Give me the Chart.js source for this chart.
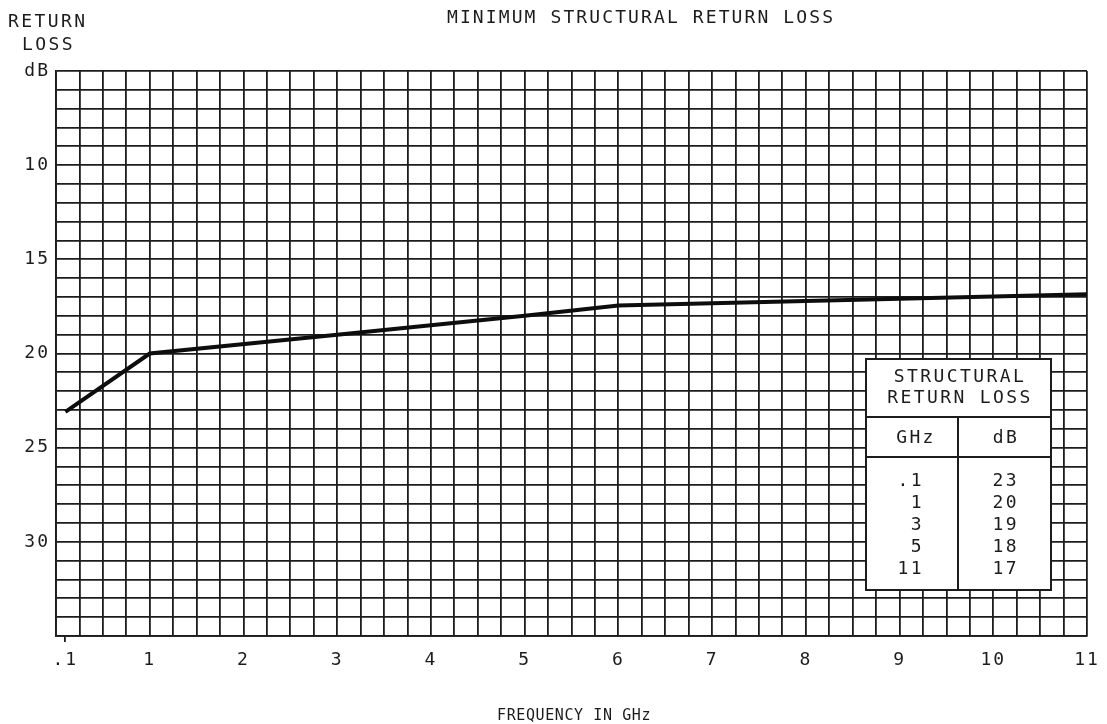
<!DOCTYPE html>
<html>
<head>
<meta charset="utf-8">
<script src="https://cdn.jsdelivr.net/npm/chart.js@4/dist/chart.umd.min.js"></script>
<style>
  html, body { margin: 0; padding: 0; background: #fff; }
  #wrap { width: 1107px; height: 724px; }
</style>
</head>
<body>
<div id="wrap"><canvas id="chart"></canvas></div>
<script>
// --- data ---
const freqGHz = [0.1, 1, 3, 5, 6, 11];
const lossDb = [23.1, 20, 19, 18, 17.45, 16.85];

const xTickValues = [0.1, 1, 2, 3, 4, 5, 6, 7, 8, 9, 10, 11];
const xTickLabels = ['.1', '1', '2', '3', '4', '5', '6', '7', '8', '9', '10', '11'];
const yTickValues = [5, 10, 15, 20, 25, 30];
const yTickLabels = ['dB', '10', '15', '20', '25', '30'];

const tableGHz = ['.1', '1', '3', '5', '11'];
const tableDb = ['23', '20', '19', '18', '17'];

// --- look ---
const ink = '#1c1c1c';
const mono = "'DejaVu Sans Mono', 'Liberation Mono', monospace";
const gridStep = { x: 0.25, y: 1 };

Chart.defaults.font.family = mono;
Chart.defaults.font.size = 18;
Chart.defaults.color = ink;

function text(ctx, str, x, y, align, size, spacing) {
  ctx.font = size + 'px ' + mono;
  ctx.letterSpacing = spacing + 'px';
  ctx.textAlign = align;
  ctx.textBaseline = 'middle';
  ctx.fillStyle = ink;
  ctx.fillText(str, x, y);
}

const sheetText = {
  id: 'sheetText',
  beforeDraw(chart) {
    chart.ctx.letterSpacing = '2px';
  },
  afterDraw(chart) {
    const ctx = chart.ctx;
    ctx.save();
    // titles
    text(ctx, 'MINIMUM STRUCTURAL RETURN LOSS', 447, 18, 'left', 18, 2.1);
    text(ctx, 'RETURN', 8, 22, 'left', 18, 2.4);
    text(ctx, 'LOSS', 22, 45, 'left', 18, 2.4);
    text(ctx, 'FREQUENCY IN GHz', 497, 716, 'left', 15, 0.6);

    // structural return loss table
    const L = 866, R = 1051, T = 359, B = 590, mid = 958;
    ctx.fillStyle = '#fff';
    ctx.fillRect(L, T, R - L, B - T);
    ctx.strokeStyle = ink;
    ctx.lineWidth = 2;
    ctx.strokeRect(L, T, R - L, B - T);
    ctx.beginPath();
    ctx.moveTo(L, 417); ctx.lineTo(R, 417);
    ctx.moveTo(L, 457); ctx.lineTo(R, 457);
    ctx.moveTo(mid, 417); ctx.lineTo(mid, B);
    ctx.stroke();
    text(ctx, 'STRUCTURAL', 960, 377, 'center', 18, 2.4);
    text(ctx, 'RETURN LOSS', 960, 398, 'center', 18, 2.4);
    text(ctx, 'GHz', 916, 438, 'center', 18, 2.4);
    text(ctx, 'dB', 1006, 438, 'center', 18, 2.4);
    tableGHz.forEach((g, i) => {
      const y = 481 + i * 22;
      text(ctx, g, 924, y, 'right', 18, 2.4);
      text(ctx, tableDb[i], 1019, y, 'right', 18, 2.4);
    });
    ctx.restore();
  }
};

const xGrid = [];
for (let v = 0; v <= 11 + 1e-9; v += gridStep.x) xGrid.push(+v.toFixed(2));

new Chart(document.getElementById('chart'), {
  type: 'line',
  data: {
    datasets: [{
      data: freqGHz.map((f, i) => ({ x: f, y: lossDb[i] })),
      borderColor: '#0d0d0d',
      borderWidth: 4,
      pointRadius: 0,
      tension: 0
    }]
  },
  options: {
    responsive: true,
    maintainAspectRatio: false,
    animation: false,
    layout: { padding: { top: 71, right: 20, left: 0, bottom: 0 } },
    plugins: { legend: { display: false }, tooltip: { enabled: false } },
    scales: {
      x: {
        type: 'linear',
        min: 0,
        max: 11,
        afterBuildTicks(scale) {
          const vals = xGrid.concat(xTickValues).filter((v, i, a) => a.indexOf(v) === i).sort((a, b) => a - b);
          scale.ticks = vals.map(v => ({ value: v }));
        },
        afterFit(scale) { scale.height = 88; },
        ticks: {
          autoSkip: false,
          maxRotation: 0,
          padding: 8,
          callback: v => {
            const i = xTickValues.indexOf(+v.toFixed(2));
            return i >= 0 ? xTickLabels[i] : '';
          }
        },
        grid: {
          color: c => (c.tick && c.tick.value === 0.1 ? 'transparent' : ink),
          tickColor: c => (c.tick && c.tick.value === 0.1 ? ink : 'transparent'),
          lineWidth: 1.8,
          tickLength: 6
        },
        border: { color: ink, width: 1.8 }
      },
      y: {
        type: 'linear',
        reverse: true,
        min: 5,
        max: 35,
        afterFit(scale) { scale.width = 56; },
        ticks: {
          stepSize: gridStep.y,
          autoSkip: false,
          padding: 6,
          callback: v => {
            const i = yTickValues.indexOf(v);
            return i >= 0 ? yTickLabels[i] : '';
          }
        },
        grid: { color: ink, lineWidth: 1.8, drawTicks: false },
        border: { color: ink, width: 1.8 }
      }
    }
  },
  plugins: [sheetText]
});
</script>
</body>
</html>
